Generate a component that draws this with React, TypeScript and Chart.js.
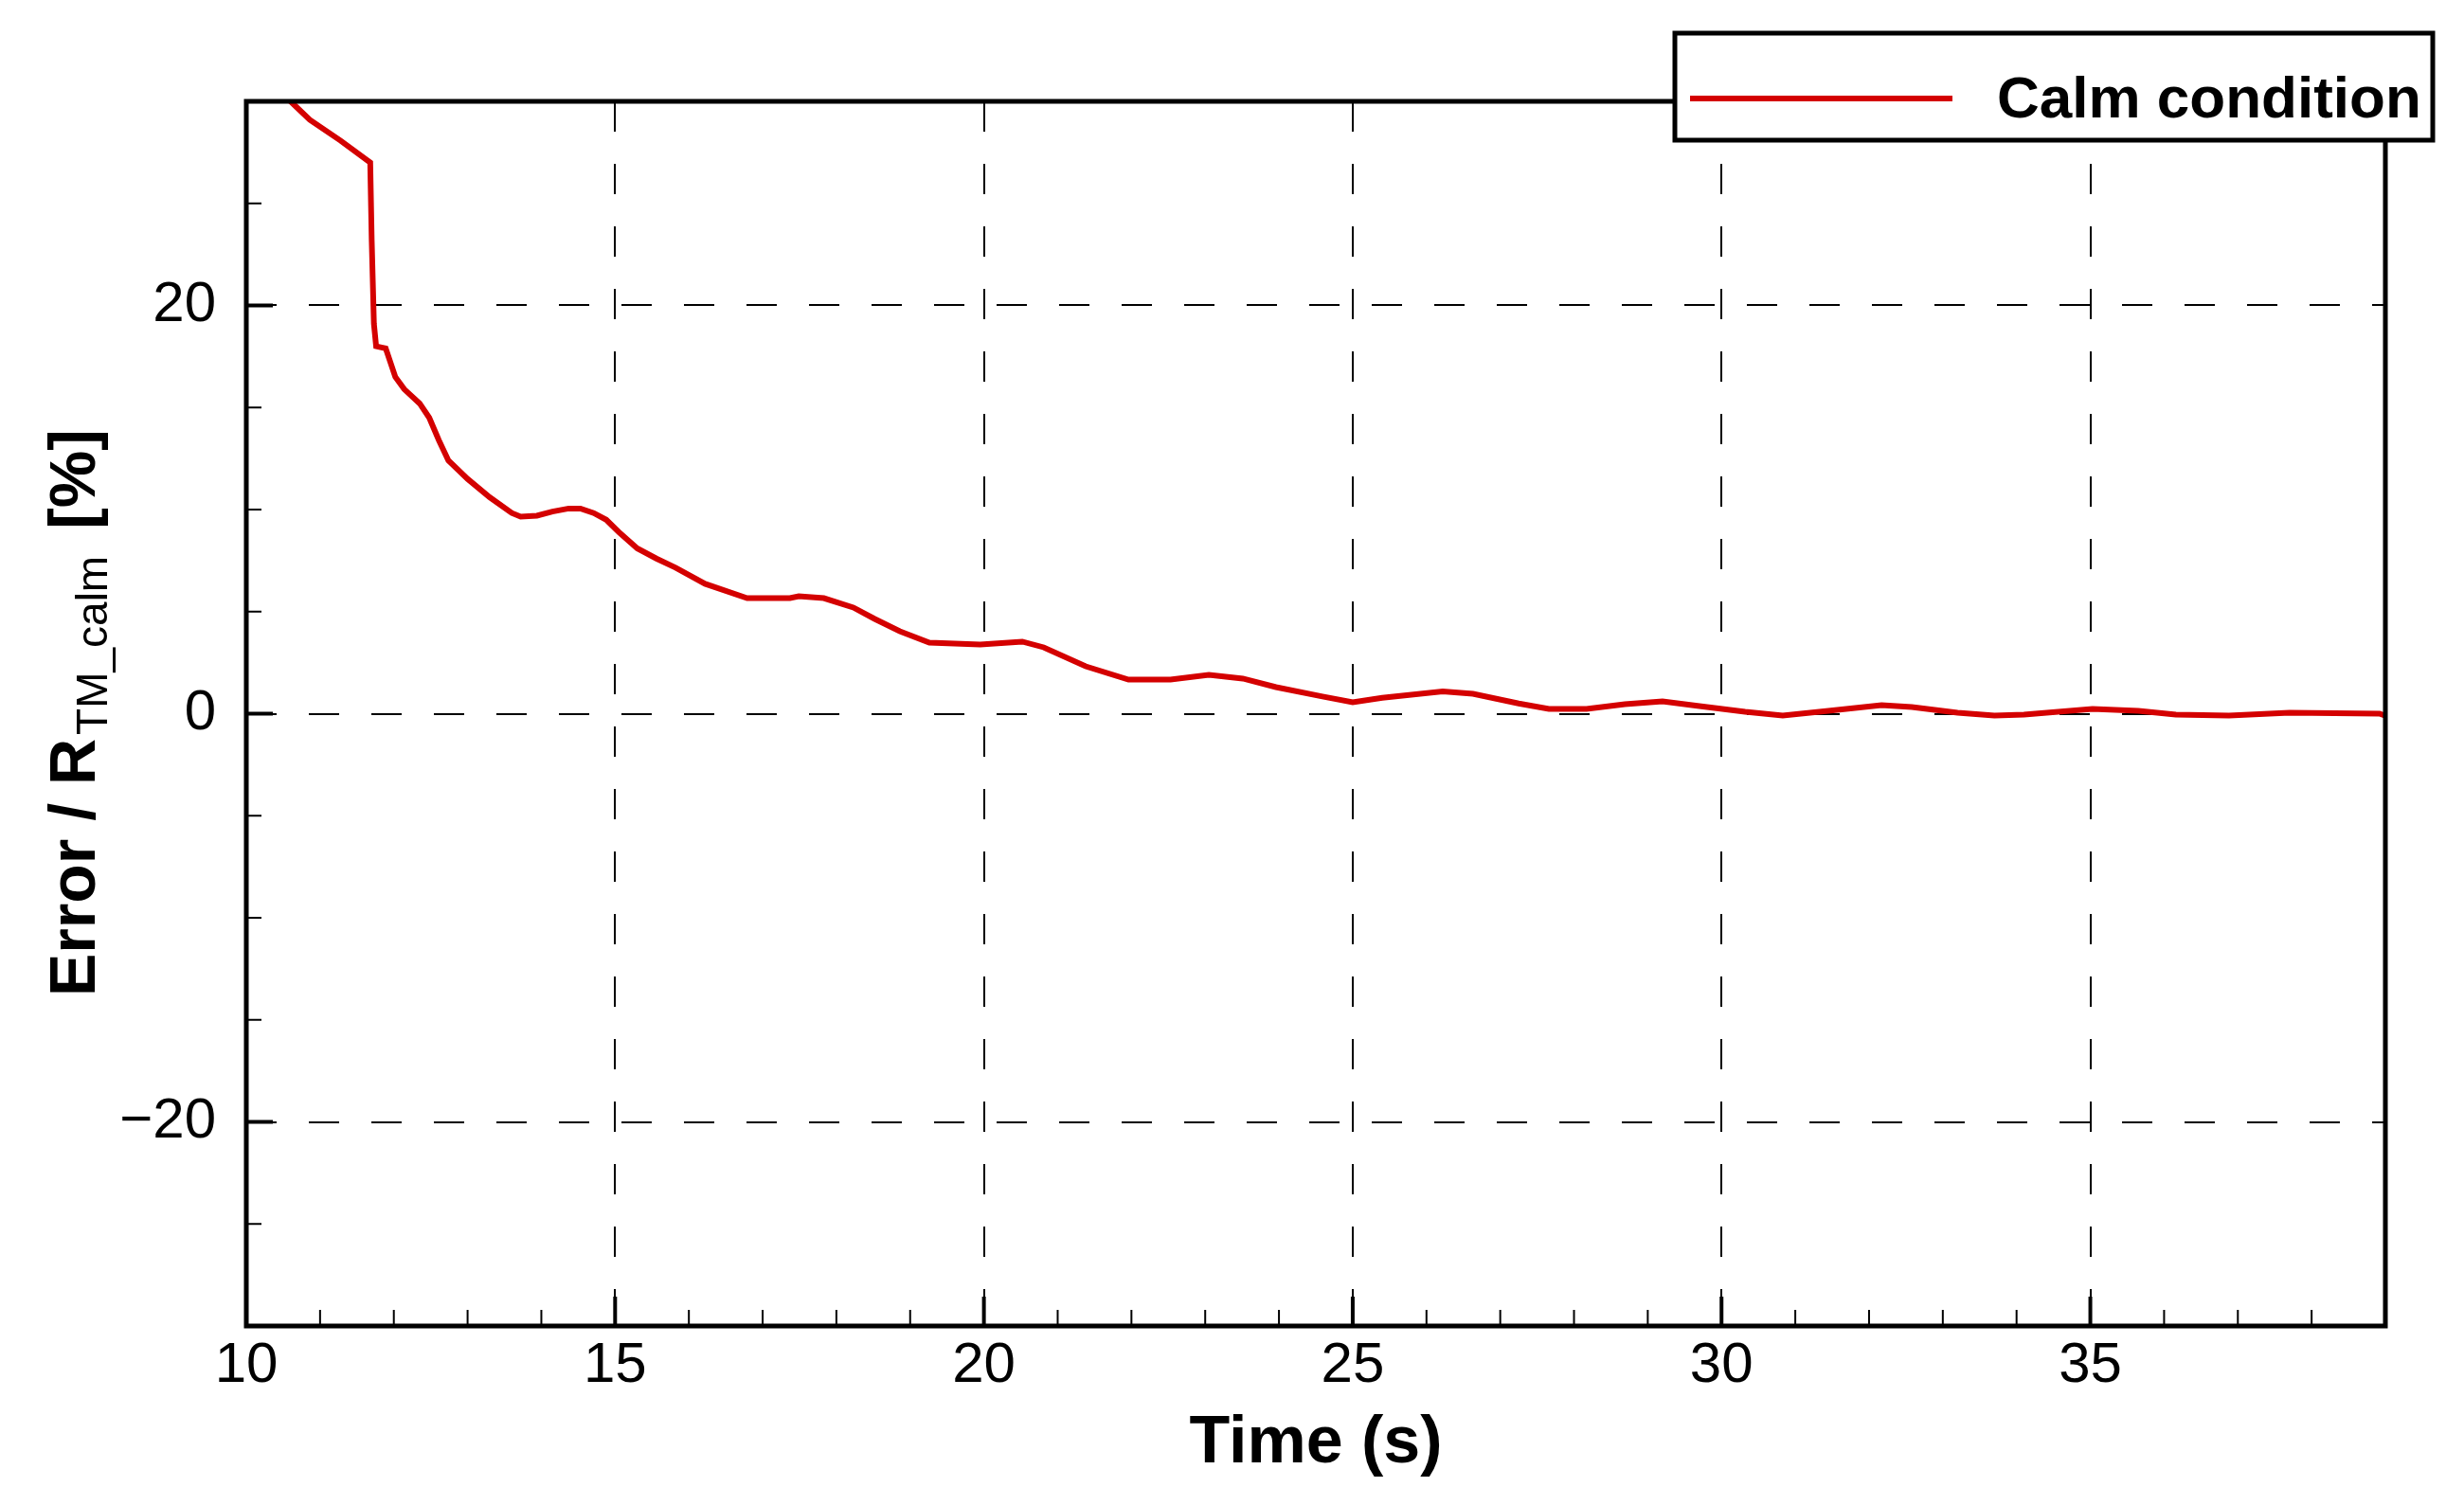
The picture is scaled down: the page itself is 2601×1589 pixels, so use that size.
import React, { useEffect, useRef } from "react";
import { Chart, registerables } from "chart.js";

Chart.register(...registerables);

const TIME_S = [
  10.5, 10.6, 10.86, 11.28, 11.68, 11.7, 11.73, 11.76, 11.89, 12.02, 12.14, 12.35, 12.48, 12.61,
  12.74, 13.0, 13.3, 13.6, 13.72, 13.94, 14.15, 14.37, 14.53, 14.71, 14.88, 15.05, 15.3, 15.56,
  15.82, 16.22, 16.79, 17.37, 17.49, 17.83, 18.23, 18.52, 18.86, 19.26, 19.95, 20.52, 20.81,
  21.38, 21.96, 22.53, 23.05, 23.51, 23.96, 24.59, 25.0, 25.4, 26.22, 26.63, 27.25, 27.66, 28.17,
  28.69, 29.2, 29.7, 30.32, 30.83, 31.45, 32.17, 32.58, 33.2, 33.7, 34.1, 35.03, 35.65, 36.16,
  36.88, 37.7, 38.92, 39.0,
];
const ERROR_PCT = [
  30.35, 30.0, 29.1, 28.07, 27.0, 23.2, 19.1, 18.0, 17.9, 16.5, 15.9, 15.2, 14.5, 13.4, 12.4,
  11.5, 10.6, 9.83, 9.65, 9.7, 9.9, 10.05, 10.05, 9.83, 9.5, 8.9, 8.1, 7.6, 7.15, 6.36, 5.66,
  5.66, 5.75, 5.66, 5.2, 4.64, 4.04, 3.48, 3.39, 3.53, 3.25, 2.32, 1.67, 1.67, 1.9, 1.72, 1.3,
  0.84, 0.56, 0.78, 1.09, 0.97, 0.5, 0.23, 0.23, 0.46, 0.6, 0.37, 0.09, -0.09, 0.14, 0.42, 0.32,
  0.05, -0.09, -0.05, 0.23, 0.14, -0.05, -0.09, 0.05, 0.0, -0.1,
];
const X_TICKS = [10, 15, 20, 25, 30, 35];
const Y_TICKS = [-20, 0, 20];
const SERIES_LABEL = "Calm condition";
const X_TITLE = "Time (s)";

const FONT = "'Liberation Sans', Arial, Helvetica, sans-serif";
const RED = "#d40000";

const decorPlugin = {
  id: "decor",
  afterDraw(chart: any) {
    const { ctx, chartArea: ca, scales } = chart;
    const xs = scales.x;
    const ys = scales.y;
    ctx.save();
    ctx.strokeStyle = "#000";
    ctx.lineCap = "butt";
    for (let v = xs.min; v <= xs.max + 1e-9; v += 1) {
      const px = xs.getPixelForValue(v);
      const major = X_TICKS.includes(Math.round(v)) && Math.abs(v - Math.round(v)) < 1e-9;
      ctx.lineWidth = major ? 4 : 2;
      ctx.beginPath();
      ctx.moveTo(px, ca.bottom);
      ctx.lineTo(px, ca.bottom - (major ? 31 : 17));
      ctx.stroke();
    }
    for (let v = ys.min; v <= ys.max + 1e-9; v += 5) {
      const py = ys.getPixelForValue(v);
      const major = Y_TICKS.includes(v);
      ctx.lineWidth = major ? 4 : 2;
      ctx.beginPath();
      ctx.moveTo(ca.left, py);
      ctx.lineTo(ca.left + (major ? 28 : 16), py);
      ctx.stroke();
    }
    ctx.lineWidth = 5;
    ctx.lineJoin = "miter";
    ctx.strokeRect(ca.left, ca.top, ca.right - ca.left, ca.bottom - ca.top);

    ctx.fillStyle = "#000";
    ctx.font = `bold 70px ${FONT}`;
    ctx.textAlign = "center";
    ctx.textBaseline = "alphabetic";
    ctx.fillText(X_TITLE, (ca.left + ca.right) / 2, 1544);

    ctx.save();
    ctx.translate(100, 1052);
    ctx.rotate(-Math.PI / 2);
    ctx.textAlign = "left";
    ctx.font = `bold 68px ${FONT}`;
    const main = "Error / R";
    ctx.fillText(main, 0, 0);
    const wMain = ctx.measureText(main).width;
    ctx.font = `46px ${FONT}`;
    const sub = "TM_calm";
    const subX = wMain + 4;
    ctx.fillText(sub, subX, 13);
    const wSub = ctx.measureText(sub).width;
    ctx.font = `bold 68px ${FONT}`;
    ctx.fillText("[%]", subX + wSub + 28, 0);
    ctx.restore();

    const bx = 1768, by = 35, bw = 800, bh = 113;
    ctx.fillStyle = "#fff";
    ctx.fillRect(bx, by, bw, bh);
    ctx.lineWidth = 5;
    ctx.strokeStyle = "#000";
    ctx.strokeRect(bx, by, bw, bh);
    ctx.strokeStyle = RED;
    ctx.lineWidth = 6;
    ctx.beginPath();
    ctx.moveTo(1784, 104);
    ctx.lineTo(2061, 104);
    ctx.stroke();
    ctx.fillStyle = "#000";
    ctx.font = `bold 62px ${FONT}`;
    ctx.textAlign = "left";
    ctx.fillText(SERIES_LABEL, 2108, 124);
    ctx.restore();
  },
};

export default function App() {
  const ref = useRef<HTMLCanvasElement | null>(null);
  useEffect(() => {
    if (!ref.current) return;
    const points = TIME_S.map((t, i) => ({ x: t, y: ERROR_PCT[i] }));
    const chart = new Chart(ref.current, {
      type: "line",
      data: {
        datasets: [
          {
            label: SERIES_LABEL,
            data: points,
            borderColor: RED,
            borderWidth: 6,
            pointRadius: 0,
            tension: 0,
            fill: false,
          },
        ],
      },
      options: {
        responsive: false,
        animation: false,
        layout: { padding: { top: 107, right: 83, left: 0, bottom: 0 } },
        plugins: { legend: { display: false }, title: { display: false }, tooltip: { enabled: false } },
        scales: {
          x: {
            type: "linear",
            min: 10,
            max: 39,
            afterBuildTicks: (s: any) => {
              s.ticks = X_TICKS.map((v) => ({ value: v }));
            },
            afterFit: (s: any) => {
              s.height = 189;
            },
            ticks: {
              font: { family: FONT, size: 60 },
              color: "#000",
              padding: 6,
              maxRotation: 0,
              callback: (v: any) => String(v),
            },
            grid: { color: "#000", lineWidth: 2, drawTicks: false },
            border: { display: false, dash: [32, 34] },
          },
          y: {
            type: "linear",
            min: -30,
            max: 30,
            afterBuildTicks: (s: any) => {
              s.ticks = Y_TICKS.map((v) => ({ value: v }));
            },
            afterFit: (s: any) => {
              s.width = 260;
            },
            ticks: {
              font: { family: FONT, size: 60 },
              color: "#000",
              padding: 32,
              callback: (v: any) => (Number(v) < 0 ? "\u2212" + Math.abs(Number(v)) : String(v)),
            },
            grid: { color: "#000", lineWidth: 2, drawTicks: false },
            border: { display: false, dash: [32, 34] },
          },
        },
      },
      plugins: [decorPlugin],
    });
    return () => chart.destroy();
  }, []);
  return (
    <div style={{ position: "absolute", left: 0, top: 0, width: 2601, height: 1589, background: "#fff" }}>
      <canvas ref={ref} width={2601} height={1589} style={{ display: "block" }} />
    </div>
  );
}
